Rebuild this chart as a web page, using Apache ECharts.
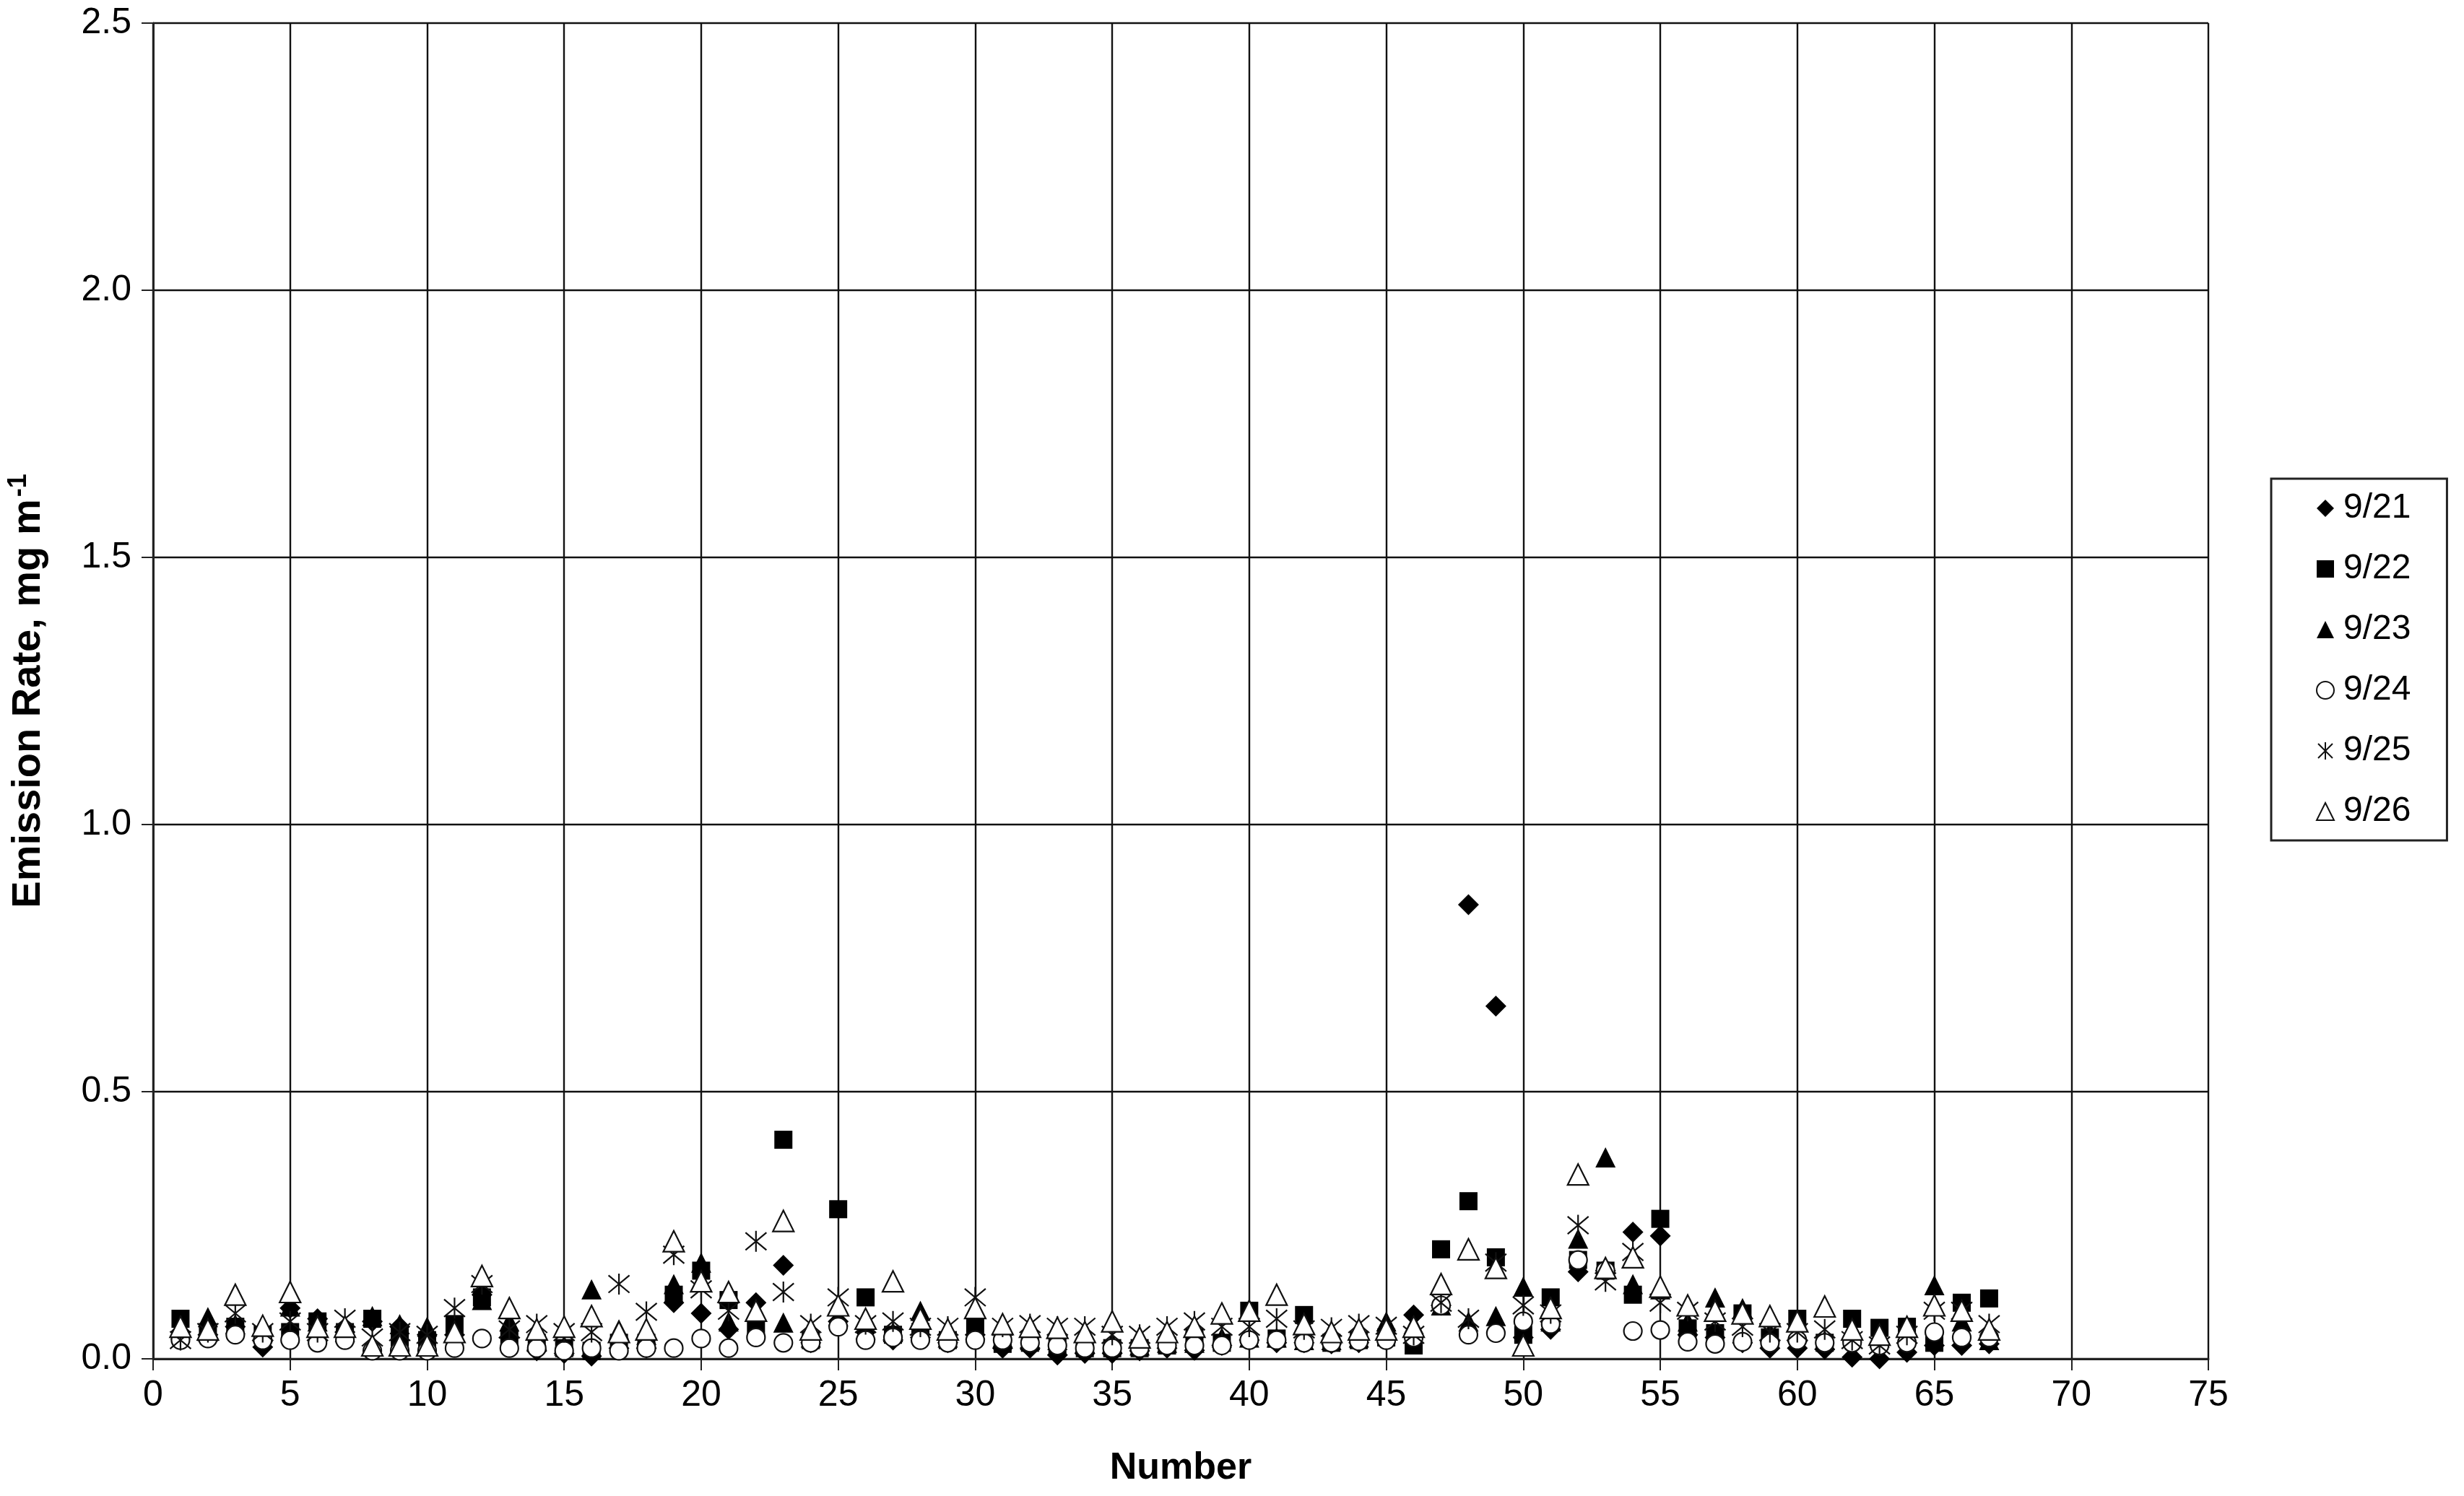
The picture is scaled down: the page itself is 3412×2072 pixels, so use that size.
<!DOCTYPE html>
<html>
<head>
<meta charset="utf-8">
<script src="https://cdn.jsdelivr.net/npm/echarts@6/dist/echarts.min.js"></script>
<style>
html,body{margin:0;padding:0;background:#fff;}
#chart{width:3412px;height:2072px;}
</style>
</head>
<body>
<div id="chart"></div>
<script>
const numbers = [1,2,3,4,5,6,7,8,9,10,11,12,13,14,15,16,17,18,19,20,21,22,23,24,25,26,27,28,29,30,31,32,33,34,35,36,37,38,39,40,41,42,43,44,45,46,47,48,49,50,51,52,53,54,55,56,57,58,59,60,61,62,63,64,65,66,67];
const seriesNames = ['9/21','9/22','9/23','9/24','9/25','9/26'];
const d0921 = [0.05,0.045,0.06,0.022,0.095,0.075,0.05,0.07,0.06,0.045,0.045,0.12,0.04,0.015,0.01,0.005,0.02,0.02,0.105,0.085,0.055,0.105,0.175,0.03,0.07,0.05,0.035,0.04,0.03,0.045,0.02,0.02,0.007,0.01,0.01,0.015,0.02,0.016,0.025,0.035,0.03,0.03,0.028,0.03,0.035,0.082,0.1,0.85,0.66,0.04,0.055,0.163,0.165,0.237,0.23,0.045,0.04,0.03,0.02,0.02,0.018,0.003,0.0,0.012,0.025,0.025,0.028];
const d0922 = [0.075,0.05,0.06,0.045,0.05,0.07,0.05,0.075,0.04,0.035,0.065,0.115,0.035,0.03,0.02,0.015,0.03,0.03,0.12,0.165,0.11,0.06,0.41,0.035,0.28,0.115,0.045,0.05,0.035,0.065,0.028,0.03,0.025,0.02,0.02,0.02,0.025,0.04,0.03,0.09,0.038,0.082,0.03,0.035,0.04,0.025,0.205,0.295,0.19,0.045,0.115,0.185,0.165,0.12,0.262,0.057,0.048,0.085,0.04,0.075,0.03,0.075,0.058,0.06,0.03,0.105,0.113];
const d0923 = [0.055,0.078,0.065,0.05,0.098,0.07,0.05,0.08,0.065,0.06,0.05,0.11,0.07,0.035,0.025,0.13,0.055,0.045,0.14,0.18,0.07,0.09,0.068,0.04,0.08,0.055,0.05,0.09,0.04,0.055,0.04,0.035,0.035,0.03,0.03,0.025,0.03,0.03,0.04,0.04,0.04,0.035,0.035,0.04,0.07,0.065,0.1,0.07,0.08,0.135,0.07,0.225,0.377,0.14,0.13,0.07,0.115,0.095,0.05,0.05,0.035,0.05,0.04,0.06,0.138,0.07,0.035];
const d0924 = [0.035,0.038,0.045,0.035,0.035,0.03,0.035,0.015,0.015,0.015,0.02,0.038,0.02,0.02,0.015,0.02,0.015,0.02,0.02,0.038,0.02,0.04,0.03,0.03,0.06,0.035,0.04,0.035,0.03,0.035,0.035,0.03,0.025,0.02,0.02,0.02,0.025,0.025,0.025,0.035,0.035,0.03,0.03,0.033,0.035,0.04,0.1,0.045,0.048,0.07,0.065,0.185,0.165,0.052,0.054,0.032,0.028,0.032,0.03,0.035,0.03,0.03,0.025,0.03,0.05,0.04,0.04];
const d0925 = [0.035,0.05,0.085,0.05,0.07,0.05,0.075,0.04,0.05,0.045,0.095,0.14,0.055,0.065,0.05,0.05,0.14,0.088,0.195,0.13,0.09,0.22,0.125,0.065,0.115,0.065,0.07,0.06,0.06,0.115,0.06,0.065,0.06,0.06,0.045,0.045,0.06,0.07,0.06,0.06,0.075,0.055,0.058,0.065,0.062,0.045,0.105,0.075,0.18,0.1,0.085,0.25,0.145,0.2,0.105,0.09,0.07,0.06,0.05,0.05,0.055,0.035,0.025,0.045,0.09,0.09,0.065];
const d0926 = [0.06,0.055,0.12,0.062,0.125,0.06,0.06,0.025,0.025,0.025,0.05,0.155,0.095,0.055,0.06,0.08,0.05,0.055,0.22,0.145,0.125,0.09,0.258,0.055,0.1,0.075,0.145,0.075,0.055,0.095,0.065,0.06,0.058,0.05,0.07,0.04,0.05,0.06,0.085,0.09,0.12,0.065,0.05,0.055,0.055,0.06,0.14,0.205,0.17,0.025,0.095,0.345,0.17,0.19,0.135,0.1,0.09,0.085,0.08,0.07,0.098,0.055,0.045,0.06,0.1,0.09,0.055];
const yTicks = [0, 0.5, 1.0, 1.5, 2.0, 2.5];
const xTicks = [0,5,10,15,20,25,30,35,40,45,50,55,60,65,70,75];

const FONT = "'Liberation Sans', Arial, sans-serif";
const asterisk = 'path://M0,0L10,10M10,0L0,10M5,-1L5,11';

function pts(arr){ return numbers.map((n,i)=>[n, arr[i]]); }

const styles = [
  {symbol:'diamond', size:29, itemStyle:{color:'#000', opacity:1}},
  {symbol:'rect', size:25, itemStyle:{color:'#000', opacity:1}},
  {symbol:'triangle', size:28, itemStyle:{color:'#000', opacity:1}},
  {symbol:'circle', size:25, itemStyle:{color:'#fff', borderColor:'#111', borderWidth:2.2, opacity:1}},
  {symbol:asterisk, size:29, itemStyle:{color:'none', borderColor:'#111', borderWidth:2.2, opacity:1}},
  {symbol:'triangle', size:29, itemStyle:{color:'#fff', borderColor:'#111', borderWidth:2.2, opacity:1}}
];
const datas = [d0921,d0922,d0923,d0924,d0925,d0926];

const chart = echarts.init(document.getElementById('chart'), null, {renderer:'canvas'});
chart.setOption({
  animation:false,
  backgroundColor:'#fff',
  grid:{left:200, right:354, top:32, bottom:190, containLabel:false},
  xAxis:{
    type:'value', min:xTicks[0], max:xTicks[xTicks.length-1], interval:5,
    name:'Number', nameLocation:'middle', nameGap:126,
    nameTextStyle:{fontFamily:FONT, fontSize:52, fontWeight:'bold', color:'#000'},
    axisLine:{show:true, onZero:false, lineStyle:{color:'#222', width:3}},
    axisTick:{show:true, inside:false, length:16, lineStyle:{color:'#222', width:2}},
    axisLabel:{fontFamily:FONT, fontSize:50, color:'#000', margin:26},
    splitLine:{show:true, lineStyle:{color:'#111', width:2.4}}
  },
  yAxis:{
    type:'value', min:yTicks[0], max:yTicks[yTicks.length-1], interval:0.5,
    name:'{t|Emission Rate, mg m}{s|-1}', nameLocation:'middle', nameGap:140,
    nameTextStyle:{fontFamily:FONT, fontSize:56, fontWeight:'bold', color:'#000',
      rich:{t:{fontFamily:FONT, fontSize:56, fontWeight:'bold', color:'#000', lineHeight:64},
            s:{fontFamily:FONT, fontSize:36, fontWeight:'bold', color:'#000', verticalAlign:'top', lineHeight:64, padding:[0,0,0,3]}}},
    axisLine:{show:true, lineStyle:{color:'#222', width:3}},
    axisTick:{show:true, inside:false, length:16, lineStyle:{color:'#222', width:2}},
    axisLabel:{fontFamily:FONT, fontSize:50, color:'#000', margin:30, formatter:v=>v.toFixed(1)},
    splitLine:{show:true, lineStyle:{color:'#111', width:2.4}}
  },
  legend:{
    orient:'vertical', left:3145, top:663,
    padding:[15,50,14,62], itemGap:32, itemWidth:24, itemHeight:24,
    borderColor:'#222', borderWidth:3, backgroundColor:'#fff',
    textStyle:{fontFamily:FONT, fontSize:48, color:'#000', lineHeight:52, padding:[0,0,0,8]},
    data:seriesNames
  },
  series: seriesNames.map((nm,i)=>({
    name:nm, type:'scatter', symbol:styles[i].symbol, symbolSize:styles[i].size,
    itemStyle:styles[i].itemStyle, data:pts(datas[i]), z:2+i
  }))
});
</script>
</body>
</html>
